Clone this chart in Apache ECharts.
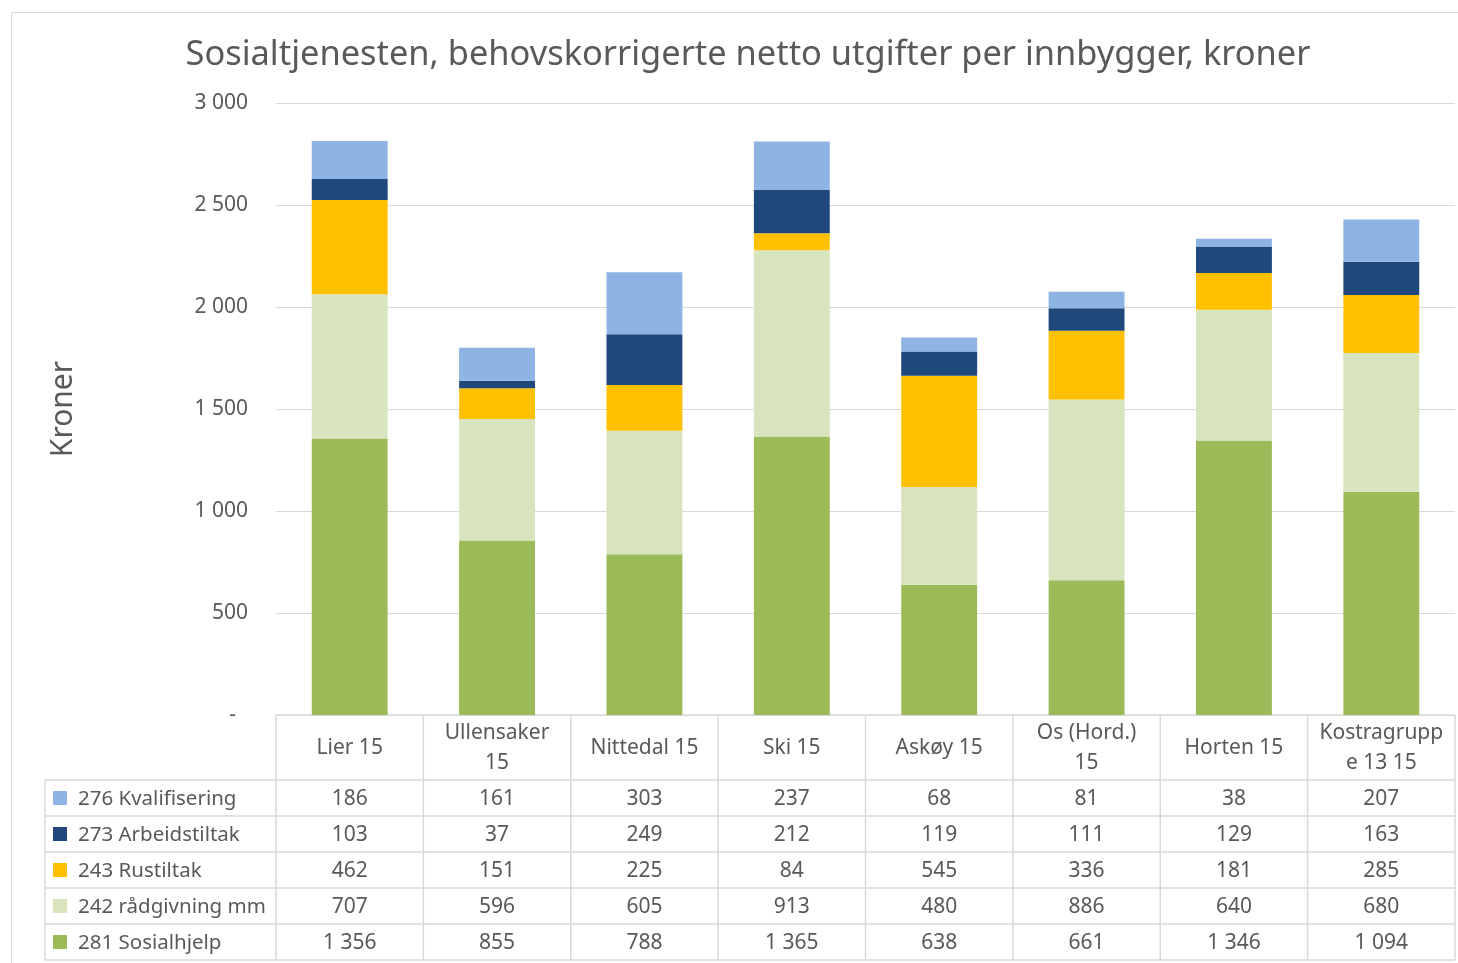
<!DOCTYPE html>
<html><head><meta charset="utf-8">
<script src="https://cdn.jsdelivr.net/npm/echarts@6/dist/echarts.min.js"></script>
<style>html,body{margin:0;padding:0;background:#fff}#c{width:1458px;height:963px}</style>
</head><body><div id="c"></div>
<script>
const categories = ['Lier 15','Ullensaker 15','Nittedal 15','Ski 15','Askøy 15','Os (Hord.) 15','Horten 15','Kostragruppe 13 15'];
const headerLabels = ['Lier 15','Ullensaker\n15','Nittedal 15','Ski 15','Askøy 15','Os (Hord.)\n15','Horten 15','Kostragrupp\ne 13 15'];
const sosialhjelp   = [1356, 855, 788, 1365, 638, 661, 1346, 1094];
const radgivning    = [707, 596, 605, 913, 480, 886, 640, 680];
const rustiltak     = [462, 151, 225, 84, 545, 336, 181, 285];
const arbeidstiltak = [103, 37, 249, 212, 119, 111, 129, 163];
const kvalifisering = [186, 161, 303, 237, 68, 81, 38, 207];
const yTicks = [0, 500, 1000, 1500, 2000, 2500, 3000];

const seriesDefs = [
  {name:'281 Sosialhjelp', data:sosialhjelp, color:'#9BBB59'},
  {name:'242 rådgivning mm', data:radgivning, color:'#D7E4BD'},
  {name:'243 Rustiltak', data:rustiltak, color:'#FFC000'},
  {name:'273 Arbeidstiltak', data:arbeidstiltak, color:'#1F497D'},
  {name:'276 Kvalifisering', data:kvalifisering, color:'#8EB4E3'}
];
const FONT = 'Noto Sans';
const TXT = '#595959';
function fmt(v){ return String(v).replace(/\B(?=(\d{3})+(?!\d))/g,' '); }

const chart = echarts.init(document.getElementById('c'));
chart.setOption({
  animation:false,
  backgroundColor:'#fff',
  title:{text:'Sosialtjenesten, behovskorrigerte netto utgifter per innbygger, kroner', left:743, top:33, textAlign:'center',
    textStyle:{fontFamily:FONT, fontSize:34.4, fontWeight:'normal', color:TXT}},
  grid:{left:276, right:3, top:103, bottom:248},
  xAxis:{type:'category', data:categories, axisLine:{show:false}, axisTick:{show:false}, axisLabel:{show:false}},
  yAxis:{type:'value', min:yTicks[0], max:yTicks[yTicks.length-1], interval:yTicks[1]-yTicks[0], name:'Kroner', nameLocation:'middle', nameGap:198,
    nameTextStyle:{fontFamily:FONT, fontSize:30, color:TXT},
    axisLine:{show:false}, axisTick:{show:false},
    splitLine:{lineStyle:{color:'#D9D9D9', width:1}},
    axisLabel:{margin:28, fontFamily:FONT, fontSize:21, color:TXT,
      formatter:v=> v===0 ? '{d|-}' : fmt(v), rich:{d:{padding:[0,12,0,0], fontFamily:FONT, fontSize:21, color:TXT}}}},
  series: seriesDefs.map(s=>({type:'bar', name:s.name, stack:'t', data:s.data, barWidth:'51.5%',
    itemStyle:{color:s.color}}))
});

// data table
const n = categories.length;
const y0 = chart.convertToPixel({yAxisIndex:0}, 0);
const c0 = chart.convertToPixel({xAxisIndex:0}, 0);
const c1 = chart.convertToPixel({xAxisIndex:0}, 1);
const bw = c1 - c0;
const leftX = c0 - bw/2;
const rightX = leftX + bw*n;
const headerH = 65, rowH = 36;
const legendLeft = 45;
const rows = [seriesDefs[4], seriesDefs[3], seriesDefs[2], seriesDefs[1], seriesDefs[0]];
const bottomY = y0 + headerH + rowH*rows.length;
const g = [];
const line = (x1,y1,x2,y2)=>g.push({type:'line', shape:{x1,y1,x2,y2}, style:{stroke:'#D9D9D9', lineWidth:1.5}, silent:true});
g.push({type:'rect', shape:{x:11.5,y:12.5,width:1500,height:1000}, style:{fill:null, stroke:'#D9D9D9', lineWidth:1}, silent:true});
line(leftX, y0, rightX, y0);
for(let r=0;r<=rows.length;r++){ const yy=y0+headerH+rowH*r; line(legendLeft, yy, rightX, yy); }
line(legendLeft, y0+headerH, legendLeft, bottomY);
for(let i=0;i<=n;i++){ const xx=leftX+bw*i; line(xx, y0, xx, bottomY); }
for(let i=0;i<n;i++){
  const cx = chart.convertToPixel({xAxisIndex:0}, i);
  g.push({type:'text', x:cx, y:y0+headerH/2+1, style:{text:headerLabels[i], align:'center', verticalAlign:'middle',
    font:'21px "'+FONT+'"', fill:TXT, lineHeight:30}, silent:true});
  rows.forEach((s,r)=>{
    g.push({type:'text', x:cx, y:y0+headerH+rowH*r+rowH/2+1, style:{text:fmt(s.data[i]), align:'center', verticalAlign:'middle',
      font:'21px "'+FONT+'"', fill:TXT}, silent:true});
  });
}
rows.forEach((s,r)=>{
  const cy = y0+headerH+rowH*r+rowH/2;
  g.push({type:'rect', shape:{x:53, y:cy-7, width:14, height:14}, style:{fill:s.color}, silent:true});
  g.push({type:'text', x:78, y:cy+1, style:{text:s.name, align:'left', verticalAlign:'middle', font:'20.5px "'+FONT+'"', fill:TXT}, silent:true});
});
chart.setOption({graphic:g});
</script></body></html>
